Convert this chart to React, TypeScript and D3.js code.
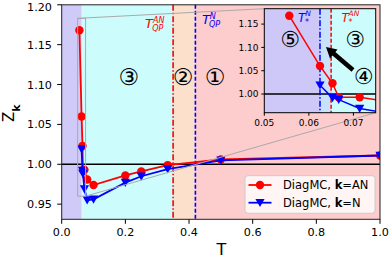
import React from 'react';
import * as d3 from 'd3';

// DiagMC data, k = AN (red circles)
const tAN = [0.0556, 0.0625, 0.0653, 0.0667, 0.0714, 0.08, 0.1, 0.2, 0.25, 0.333, 0.5, 1.0];
const zAN = [1.168, 1.06, 1.023, 0.993, 0.993, 0.981, 0.974, 0.986, 0.991, 0.999, 1.006, 1.011];
// DiagMC data, k = N (blue triangles)
const tN = [0.0625, 0.0653, 0.0667, 0.0714, 0.08, 0.1, 0.2, 0.25, 0.333, 0.5, 1.0];
const zN = [1.019, 0.992, 0.988, 0.969, 0.955, 0.956, 0.977, 0.985, 0.994, 1.005, 1.011];

// region boundaries: T*^N, T*^AN, T_QP^AN, T_QP^N
const regionEdges = [0, 0.0625, 0.065, 0.35, 0.42, 1.0];
const regionColors = ['#cfcaf8', '#c6e6fb', '#ccfcfc', '#fde0cc', '#fdcccc'];

const xTicks = [0, 0.2, 0.4, 0.6, 0.8, 1.0];
const yTicks = [0.95, 1.0, 1.05, 1.1, 1.15, 1.2];
const insetXTicks = [0.05, 0.06, 0.07];
const insetYTicks = [1.0, 1.05, 1.1, 1.15];

const font = 'DejaVu Sans, sans-serif';

const x = d3.scaleLinear().domain([0, 1]).range([61.7, 380]);
const y = d3.scaleLinear().domain([0.931, 1.2]).range([219.3, 4.8]);
const xi = d3.scaleLinear().domain([0.05, 0.075]).range([264.3, 375.7]);
const yi = d3.scaleLinear().domain([0.96, 1.183]).range([112.7, 8.7]);

const tri = 'M-4.6,-3.8L4.6,-3.8L0,4.4Z';

function Series({ xs, ys, sx, sy, color, marker, w }) {
  const pts = xs.map((t, i) => [sx(t), sy(ys[i])]);
  const line = d3.line()(pts);
  return (
    <g>
      <path d={line} fill="none" stroke={color} strokeWidth={w} />
      {pts.map(([px, py], i) =>
        marker === 'o' ? (
          <circle key={i} cx={px} cy={py} r={4.2} fill={color} />
        ) : (
          <path key={i} d={tri} transform={`translate(${px},${py})`} fill={color} />
        )
      )}
    </g>
  );
}

function Scripted({ x0, y0, color, sup, sub, size = 13 }) {
  return (
    <g fill={color} fontFamily={font} fontStyle="italic">
      <text x={x0} y={y0} fontSize={size}>T</text>
      <text x={x0 + size * 0.6} y={y0 - size * 0.42} fontSize={size * 0.62}>{sup}</text>
      <text x={x0 + size * 0.55} y={y0 + size * 0.2} fontSize={size * 0.62}>{sub}</text>
    </g>
  );
}

export default function App() {
  const [x0, x1] = x.range();
  const [yb, yt] = y.range();
  const [ix0, ix1] = xi.range();
  const [iyb, iyt] = yi.range();
  const [dx0, dx1] = xi.domain();
  const [dy0, dy1] = yi.domain();

  return (
    <svg width={390} height={260} style={{ position: 'absolute', left: 0, top: 0, background: '#fff' }}>
      <defs>
        <clipPath id="main-clip">
          <rect x={x0} y={yt} width={x1 - x0} height={yb - yt} />
        </clipPath>
        <clipPath id="inset-clip">
          <rect x={ix0} y={iyt} width={ix1 - ix0} height={iyb - iyt} />
        </clipPath>
      </defs>

      {/* main regions */}
      {regionColors.map((c, i) => (
        <rect key={i} x={x(regionEdges[i])} y={yt} width={x(regionEdges[i + 1]) - x(regionEdges[i])} height={yb - yt} fill={c} />
      ))}

      {/* reference line at Z=1 */}
      <line x1={x0} x2={x1} y1={y(1)} y2={y(1)} stroke="#000" strokeWidth={1.5} />

      {/* phase lines */}
      <line x1={x(0.35)} x2={x(0.35)} y1={yt} y2={yb} stroke="#ff0000" strokeWidth={1.6} strokeDasharray="6,2,1.5,2" />
      <line x1={x(0.42)} x2={x(0.42)} y1={yt} y2={yb} stroke="#0000ff" strokeWidth={1.6} strokeDasharray="4,2" />

      <g clipPath="url(#main-clip)">
        <Series xs={tAN} ys={zAN} sx={x} sy={y} color="#ff0000" marker="o" w={1.8} />
        <Series xs={tN} ys={zN} sx={x} sy={y} color="#0000ff" marker="v" w={1.8} />
      </g>

      {/* zoom indicator */}
      <rect x={x(dx0)} y={y(dy1)} width={x(dx1) - x(dx0)} height={y(dy0) - y(dy1)} fill="none" stroke="#aaa" strokeWidth={1} />
      <line x1={x(dx0)} y1={y(dy1)} x2={ix0} y2={iyt} stroke="#aaa" strokeWidth={1} />
      <line x1={x(dx1)} y1={y(dy0)} x2={ix1} y2={iyb} stroke="#aaa" strokeWidth={1} />

      {/* main annotations */}
      <Scripted x0={x(0.35) - 28} y0={28} color="#ff0000" sup="AN" sub="QP" size={13} />
      <Scripted x0={x(0.42) + 6.5} y0={24} color="#0000ff" sup="N" sub="QP" size={13} />
      <g fontFamily={font} fontSize={23} textAnchor="middle" dominantBaseline="central" fill="#000">
        <text x={128.7} y={76.5}>③</text>
        <text x={183} y={76.5}>②</text>
        <text x={215} y={77}>①</text>
      </g>

      {/* main frame */}
      <rect x={x0} y={yt} width={x1 - x0} height={yb - yt} fill="none" stroke="#222" strokeWidth={1} />

      {/* main ticks */}
      <g fontFamily={font} fontSize={11.2} fill="#000">
        {xTicks.map((t) => (
          <g key={t}>
            <line x1={x(t)} x2={x(t)} y1={yb} y2={yb + 4.5} stroke="#000" />
            <text x={x(t)} y={236} textAnchor="middle">{d3.format('.1f')(t)}</text>
          </g>
        ))}
        {yTicks.map((t) => (
          <g key={t}>
            <line x1={x0 - 4.5} x2={x0} y1={y(t)} y2={y(t)} stroke="#000" />
            <text x={52} y={Math.max(y(t) + 4, 10.6)} textAnchor="end">{d3.format('.2f')(t)}</text>
          </g>
        ))}
      </g>
      <text x={(x0 + x1) / 2 + 0.5} y={255} textAnchor="middle" fontFamily={font} fontSize={16}>T</text>
      <text transform="translate(13.5,122) rotate(-90)" fontFamily={font} fontSize={15}>
        Z<tspan fontWeight="bold" fontSize={11} dy={6.5}>k</tspan>
      </text>

      {/* inset */}
      <g>
        {regionColors.map((c, i) => {
          const a = Math.max(regionEdges[i], dx0);
          const b = Math.min(regionEdges[i + 1], dx1);
          if (b <= a) return null;
          const col = i === 0 ? '#cdc8f8' : i === 1 ? '#c8e2fb' : c;
          return <rect key={i} x={xi(a)} y={iyt} width={xi(b) - xi(a)} height={iyb - iyt} fill={col} />;
        })}
        <line x1={ix0} x2={ix1} y1={yi(1)} y2={yi(1)} stroke="#000" strokeWidth={1.5} />
        <line x1={xi(0.0625)} x2={xi(0.0625)} y1={iyt} y2={iyb} stroke="#0000ff" strokeWidth={1.5} strokeDasharray="6,2,1.5,2" />
        <line x1={xi(0.065)} x2={xi(0.065)} y1={iyt} y2={iyb} stroke="#ff0000" strokeWidth={1.5} strokeDasharray="4,2" />
        <g clipPath="url(#inset-clip)">
          <Series xs={tAN} ys={zAN} sx={xi} sy={yi} color="#ff0000" marker="o" w={1.5} />
          <Series xs={tN} ys={zN} sx={xi} sy={yi} color="#0000ff" marker="v" w={1.5} />
        </g>
        {/* arrow pointing at region 4 */}
        <line x1={353} y1={70} x2={333} y2={53} stroke="#000" strokeWidth={4.5} />
        <path d="M326,47 L337.5,49.5 L330,58.5 Z" fill="#000" />
        <g fontFamily={font} fontSize={22} textAnchor="middle" dominantBaseline="central" fill="#000">
          <text x={290} y={39}>⑤</text>
          <text x={355} y={39}>③</text>
          <text x={363.5} y={76}>④</text>
        </g>
        <g fontFamily={font} fontStyle="italic">
          <text x={298} y={22} fontSize={12} fill="#0000ff">T</text>
          <text x={305.3} y={16} fontSize={7.5} fill="#0000ff">N</text>
          <text x={305} y={25} fontSize={8} fill="#0000ff">*</text>
          <text x={341.5} y={22} fontSize={12} fill="#ff0000">T</text>
          <text x={348.5} y={16} fontSize={7.5} fill="#ff0000">AN</text>
          <text x={348.5} y={25} fontSize={8} fill="#ff0000">*</text>
        </g>
        <rect x={ix0} y={iyt} width={ix1 - ix0} height={iyb - iyt} fill="none" stroke="#000" strokeWidth={1} />
        <g fontFamily={font} fontSize={9} fill="#000">
          {insetXTicks.map((t) => (
            <g key={t}>
              <line x1={xi(t)} x2={xi(t)} y1={iyb} y2={iyb + 3} stroke="#000" />
              <text x={xi(t)} y={126} textAnchor="middle">{d3.format('.2f')(t)}</text>
            </g>
          ))}
          {insetYTicks.map((t) => (
            <g key={t}>
              <line x1={ix0 - 3} x2={ix0} y1={yi(t)} y2={yi(t)} stroke="#000" />
              <text x={258.5} y={yi(t) + 3.2} textAnchor="end">{d3.format('.2f')(t)}</text>
            </g>
          ))}
        </g>
      </g>

      {/* legend */}
      <g fontFamily={font} fontSize={11.5}>
        <rect x={245} y={175.7} width={130} height={37.6} rx={3} fill="#fff" fillOpacity={0.8} stroke="#ccc" />
        <line x1={248.5} x2={271.5} y1={185} y2={185} stroke="#ff0000" strokeWidth={1.8} />
        <circle cx={260} cy={185} r={4.2} fill="#ff0000" />
        <text x={283} y={189}>
          DiagMC, <tspan fontWeight="bold">k</tspan>=AN
        </text>
        <line x1={248.5} x2={271.5} y1={202.7} y2={202.7} stroke="#0000ff" strokeWidth={1.8} />
        <path d={tri} transform="translate(260,202.7)" fill="#0000ff" />
        <text x={283} y={206.7}>
          DiagMC, <tspan fontWeight="bold">k</tspan>=N
        </text>
      </g>
    </svg>
  );
}
